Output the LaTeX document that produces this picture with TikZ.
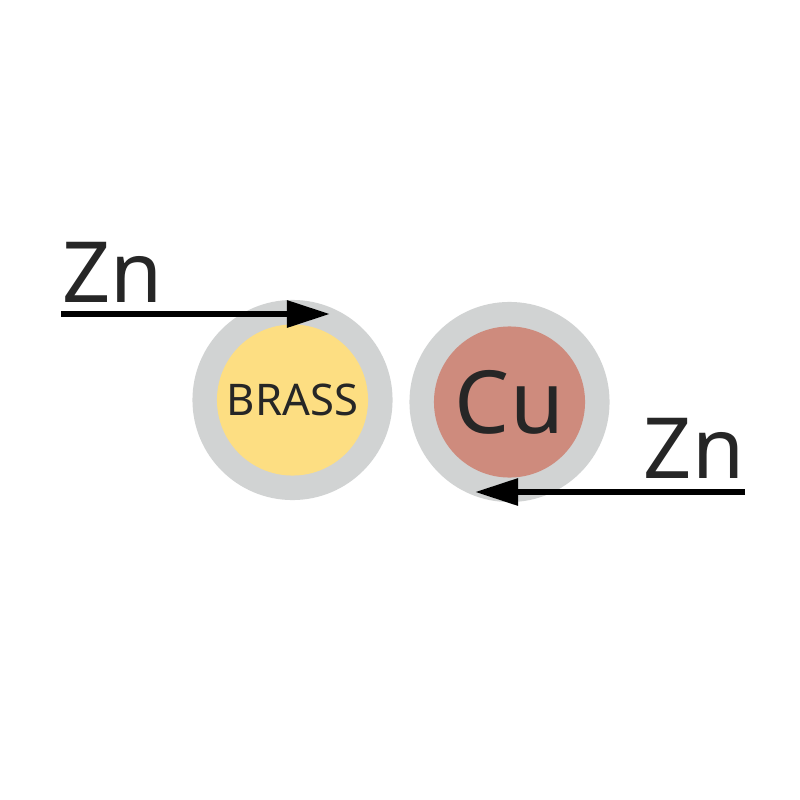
\documentclass[tikz,border=0pt]{standalone}
\usepackage{fontspec}
\setmainfont{Noto Sans}
\usetikzlibrary{arrows.meta}
\definecolor{ringgray}{HTML}{D1D3D3}
\definecolor{brassy}{HTML}{FDDE82}
\definecolor{coppr}{HTML}{CE8B7D}
\definecolor{ink}{HTML}{262626}
\tikzset{
  ring/.style={circle, fill=ringgray, minimum size=2cm, inner sep=0pt},
  core/.style={circle, minimum size=1.51cm, inner sep=0pt, text=ink},
  lbl/.style={text=ink, inner sep=0pt, font=\fontsize{24}{24}\selectfont},
  flow/.style={line width=1.7pt, -{Triangle[length=0.43cm, width=0.26cm]}}
}
\begin{document}
\begin{tikzpicture}[x=0.01cm, y=-0.01cm]
\useasboundingbox (0,0) rectangle (800,800);
\node[ring] (lring) at (292.5,400) {};
\node[core, fill=brassy, font=\fontsize{12.4}{12.4}\selectfont] (brass) at (292.5,400) {BRASS};
\node[ring] (rring) at (509.5,402) {};
\node[core, fill=coppr, font=\fontsize{24.8}{24.8}\selectfont] (cu) at (509.5,402) {Cu};
\node[lbl, anchor=base west] (zn1) at (62,302) {Zn};
\node[lbl, anchor=base east] (zn2) at (745,478) {Zn};
\coordinate (a1s) at (61,314);
\coordinate (a1e) at (330,314);
\coordinate (a2s) at (745,492);
\coordinate (a2e) at (475,492);
\draw[flow] (a1s) -- (a1e);
\draw[flow] (a2s) -- (a2e);
\end{tikzpicture}
\end{document}
